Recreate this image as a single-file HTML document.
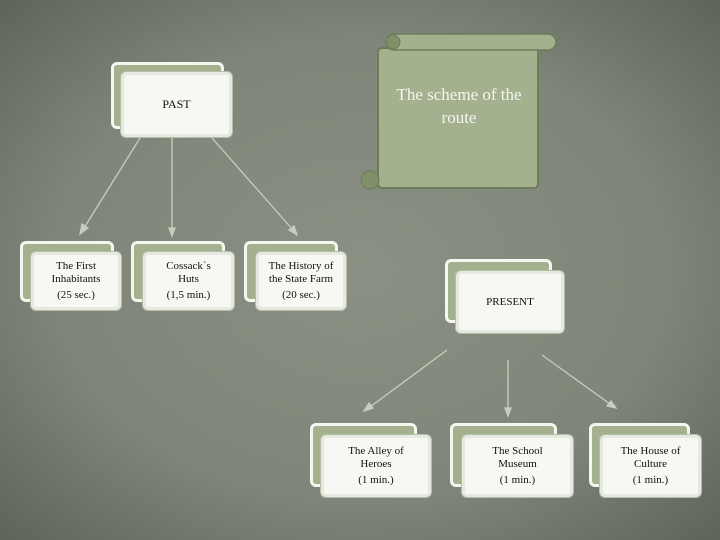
<html><head><style>
body{margin:0;width:720px;height:540px;overflow:hidden;background:#7d8476;font-family:"Liberation Serif",serif;}
.bg{position:absolute;left:0;top:0;width:720px;height:540px;background:radial-gradient(ellipse at 50% 50%,#8a9083 0%,#7f8679 60%,#5e6458 100%);}
.b{position:absolute;background:#a4b18e;border:3px solid #f4f6f0;border-radius:6px;}
.f{position:absolute;background:#f7f8f4;border:3px solid #e6e9df;border-radius:5px;box-shadow:0 0 0 1px #b5bca9;display:flex;flex-direction:column;justify-content:center;align-items:center;text-align:center;font-size:11px;line-height:13px;color:#111;box-sizing:border-box;padding:0 12px;}
.f p{margin:3px 0 0;}
</style></head><body><div class="bg"></div>
<svg width="720" height="540" style="position:absolute;left:0;top:0">
<g stroke="#c9cdbf" stroke-width="1.3" fill="#c9cdbf">
<line x1="140" y1="138" x2="84" y2="228"/><polygon points="80,234 82,224 88,228"/>
<line x1="172" y1="138" x2="172" y2="229"/><polygon points="172,236 169,228 175,228"/>
<line x1="212" y1="138" x2="293" y2="230"/><polygon points="297,235 289,230 294,226"/>
<line x1="447" y1="350" x2="370" y2="407"/><polygon points="364,411 369,403 373,408"/>
<line x1="508" y1="360" x2="508" y2="409"/><polygon points="508,416 505,408 511,408"/>
<line x1="542" y1="355" x2="610" y2="404"/><polygon points="616,408 607,406 611,401"/>
</g>
<g>
<rect x="378" y="48" width="160" height="140" fill="#a4b18e" stroke="#6b7d5a" stroke-width="2" rx="4"/>
<rect x="386" y="34" width="170" height="16" rx="8" fill="#a4b18e" stroke="#6b7d5a" stroke-width="1.5"/>
<circle cx="393" cy="42" r="7" fill="#7f9068" stroke="#6b7d5a"/>
<circle cx="370" cy="180" r="9" fill="#7f9068" stroke="#6b7d5a"/>
</g>
</svg>
<div style="position:absolute;left:380px;top:83px;width:158px;text-align:center;color:#f5f5ee;font-size:17px;line-height:23px">The scheme of the route</div>
<div class="b" style="left:111px;top:62px;width:107px;height:61px"></div>
<div class="f" style="left:121px;top:72px;width:111px;height:65px;font-size:12px">PAST</div>

<div class="b" style="left:20px;top:241px;width:88px;height:55px"></div>
<div class="f" style="left:31px;top:252px;width:90px;height:58px;padding:0 4px">The First Inhabitants<p>(25 sec.)</p></div>
<div class="b" style="left:131px;top:241px;width:88px;height:55px"></div>
<div class="f" style="left:143px;top:252px;width:91px;height:58px;padding:0 14px">Cossack`s Huts<p>(1,5 min.)</p></div>
<div class="b" style="left:244px;top:241px;width:88px;height:55px"></div>
<div class="f" style="left:256px;top:252px;width:90px;height:58px;padding:0 4px">The History of the State Farm<p>(20 sec.)</p></div>

<div class="b" style="left:445px;top:259px;width:101px;height:58px"></div>
<div class="f" style="left:456px;top:271px;width:108px;height:62px">PRESENT</div>

<div class="b" style="left:310px;top:423px;width:101px;height:58px"></div>
<div class="f" style="left:321px;top:435px;width:110px;height:62px;padding:0 18px">The Alley of Heroes<p>(1 min.)</p></div>
<div class="b" style="left:450px;top:423px;width:101px;height:58px"></div>
<div class="f" style="left:462px;top:435px;width:111px;height:62px;padding:0 22px">The School Museum<p>(1 min.)</p></div>
<div class="b" style="left:589px;top:423px;width:95px;height:58px"></div>
<div class="f" style="left:600px;top:435px;width:101px;height:62px;padding:0 14px">The House of Culture<p>(1 min.)</p></div>
</body></html>
